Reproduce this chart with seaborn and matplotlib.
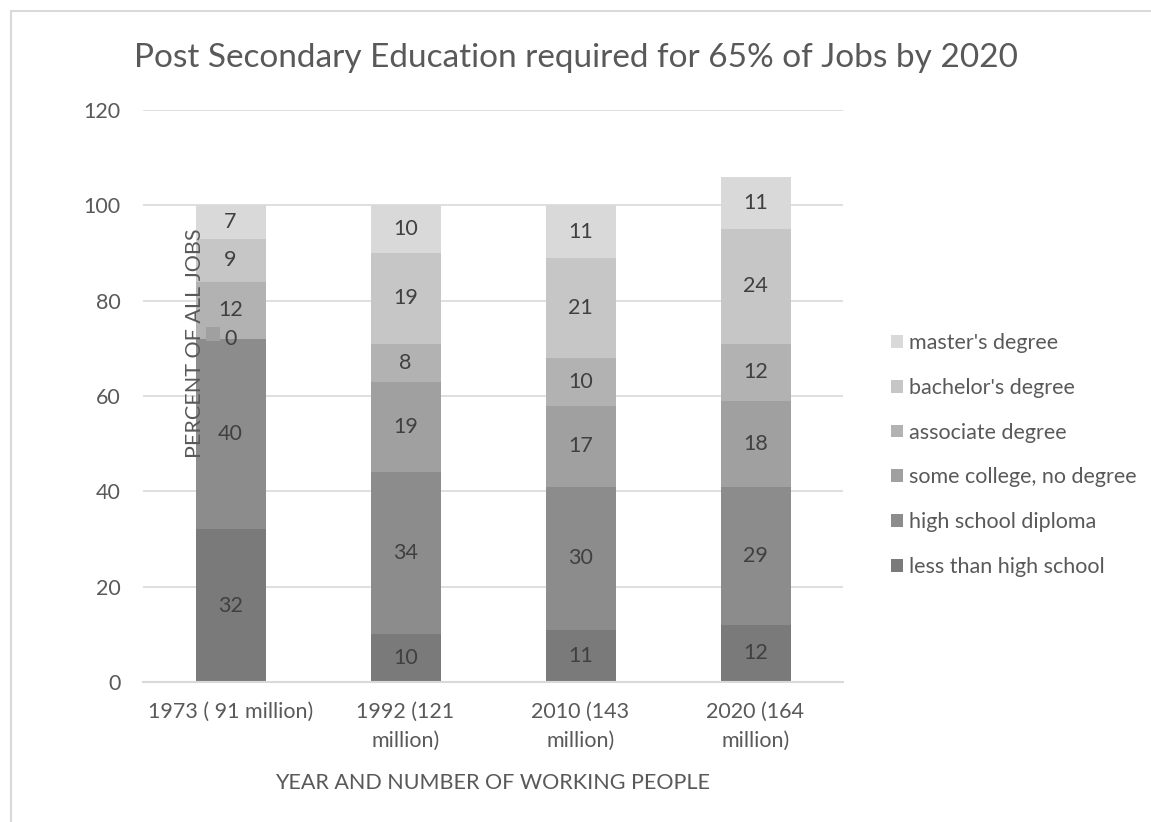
import numpy as np
import matplotlib
matplotlib.use('Agg')
import matplotlib.pyplot as plt
import seaborn as sns
from matplotlib.patches import Patch, Rectangle

sns.set_style('white')
plt.rcParams['font.family'] = ['Lato', 'DejaVu Sans']

# данные
categories = ['1973 ( 91 million)', '1992 (121\nmillion)', '2010 (143\nmillion)', '2020 (164\nmillion)']
series = ['less than high school', 'high school diploma', 'some college, no degree',
          'associate degree', "bachelor's degree", "master's degree"]
less_than_hs = [32, 10, 11, 12]
hs_diploma = [40, 34, 30, 29]
some_college = [0, 19, 17, 18]
associate = [12, 8, 10, 12]
bachelor = [9, 19, 21, 24]
master = [7, 10, 11, 11]
values = [less_than_hs, hs_diploma, some_college, associate, bachelor, master]
colors = ['#7a7a7a', '#8c8c8c', '#a0a0a0', '#b2b2b2', '#c6c6c6', '#d9d9d9']

text_col = '#595959'
fs = 15.5

fig = plt.figure(figsize=(11.51, 8.22), dpi=100)
ax = fig.add_axes([143 / 1151, 140 / 822, 700 / 1151, 572 / 822])

# рамка вокруг диаграммы
fig.patches.append(Rectangle((11 / 1151, -0.01), 1.1, (822 - 11) / 822 + 0.01,
                             transform=fig.transFigure, fill=False,
                             edgecolor='#d9d9d9', linewidth=1.5))

x = np.arange(len(categories))
bottom = np.zeros(len(categories))
for name, vals, col in zip(series, values, colors):
    sns.barplot(x=x, y=vals, bottom=bottom, color=col, width=0.4, ax=ax,
                native_scale=True, linewidth=0, saturation=1)
    for xi, b, v in zip(x, bottom, vals):
        ax.text(xi, b + v / 2, str(v), ha='center', va='center',
                fontsize=fs, color='#404040')
        if v == 0:
            ax.scatter([xi - 0.1], [b + 1], marker='s', s=90, color=col,
                       linewidths=0, zorder=3)
    bottom = bottom + np.array(vals)

ax.set_xlim(-0.5, len(categories) - 0.5)
ax.set_ylim(0, 120)
ax.set_yticks(range(0, 121, 20))
ax.set_xticks(x)
ax.set_xticklabels(categories)
ax.tick_params(axis='both', length=0, labelsize=fs, colors=text_col)
ax.tick_params(axis='y', pad=16)
ax.tick_params(axis='x', pad=14)
ax.yaxis.grid(True, color='#d9d9d9', linewidth=1.2)
ax.set_axisbelow(True)
for s in ['top', 'right', 'left']:
    ax.spines[s].set_visible(False)
ax.spines['bottom'].set_color('#d9d9d9')
ax.spines['bottom'].set_linewidth(1.5)
for lbl in ax.get_xticklabels():
    lbl.set_linespacing(1.6)

ax.set_xlabel('YEAR AND NUMBER OF WORKING PEOPLE', fontsize=fs, color=text_col, labelpad=16)
ax.set_ylabel('')
fig.text(195 / 1151, 1 - 343 / 822, 'PERCENT OF ALL JOBS', rotation=90,
         ha='center', va='center', fontsize=fs, color=text_col)

fig.text(0.5, 1 - 58 / 822, 'Post Secondary Education required for 65% of Jobs by 2020',
         ha='center', va='center', fontsize=24, color=text_col)

handles = [Patch(facecolor=c, edgecolor='none') for c in colors][::-1]
leg = fig.legend(handles, series[::-1], loc='center left',
                 bbox_to_anchor=(872 / 1151, 1 - 455 / 822), frameon=False,
                 fontsize=fs, labelcolor=text_col, handlelength=0.55, handleheight=0.55,
                 handletextpad=0.25, labelspacing=1.15)

fig.savefig('out.png', dpi=100)
